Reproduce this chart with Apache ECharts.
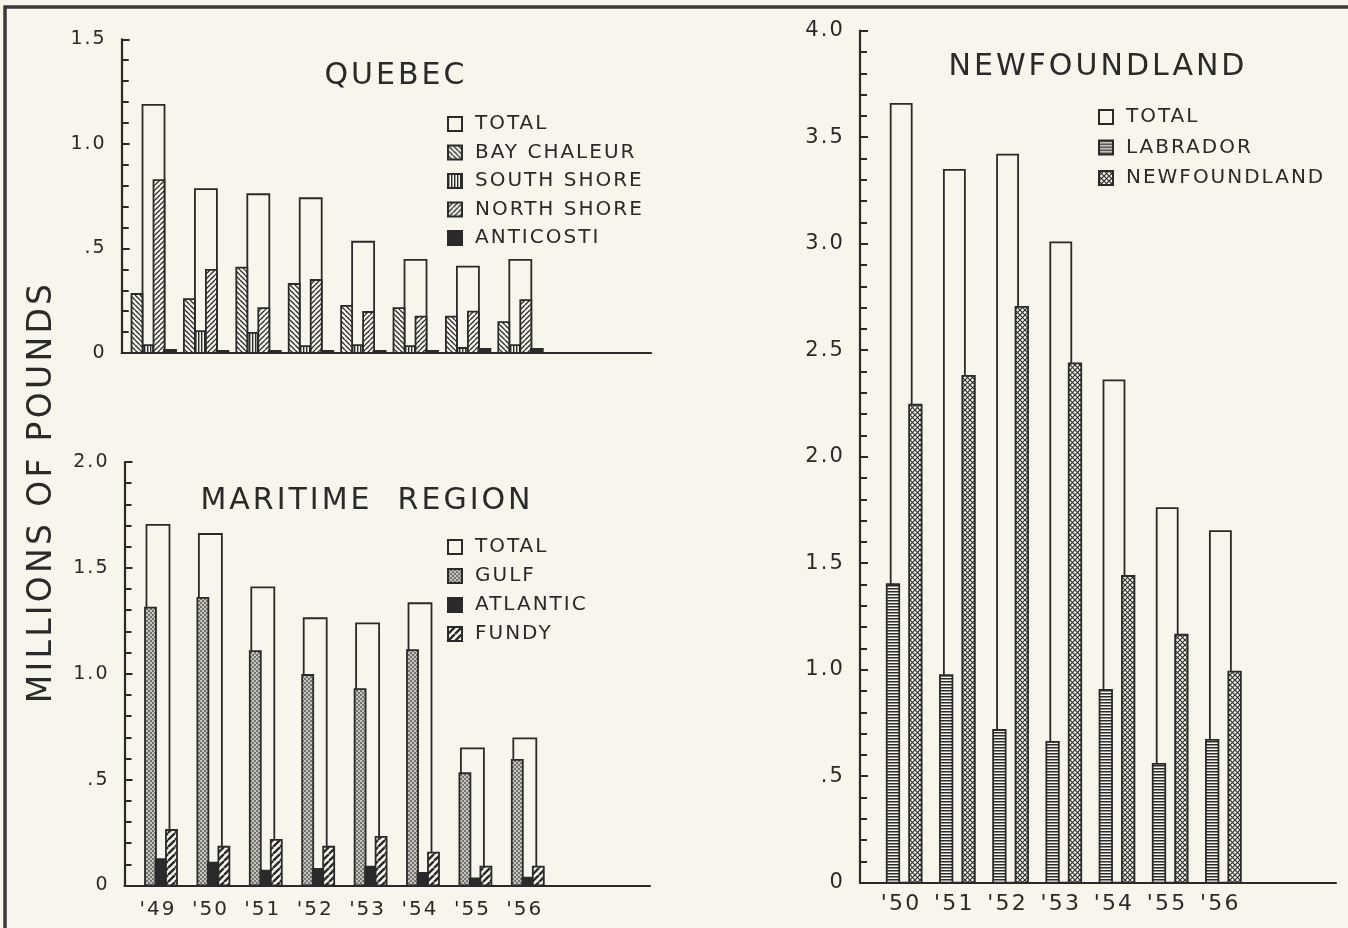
<!DOCTYPE html>
<html>
<head>
<meta charset="utf-8">
<script src="https://cdn.jsdelivr.net/npm/echarts@6/dist/echarts.min.js"></script>
<style>
html,body{margin:0;padding:0;background:#f7f5ec;}
#c{width:1348px;height:928px;}
</style>
</head>
<body>
<div id="c"></div>
<script>
// ---------- DATA ----------
const qmYears = ["'49", "'50", "'51", "'52", "'53", "'54", "'55", "'56"];
const quebecTotal = [1.186, 0.784, 0.759, 0.740, 0.532, 0.445, 0.413, 0.445];
const bayChaleur = [0.282, 0.258, 0.408, 0.330, 0.225, 0.215, 0.174, 0.148];
const southShore = [0.038, 0.105, 0.096, 0.033, 0.038, 0.033, 0.024, 0.038];
const northShore = [0.827, 0.397, 0.215, 0.349, 0.196, 0.174, 0.198, 0.253];
const anticosti = [0.015, 0.010, 0.010, 0.010, 0.010, 0.010, 0.020, 0.020];

const maritimeTotal = [1.703, 1.660, 1.408, 1.262, 1.238, 1.333, 0.648, 0.695];
const gulf = [1.312, 1.358, 1.107, 0.994, 0.927, 1.112, 0.530, 0.593];
const atlantic = [0.125, 0.108, 0.070, 0.078, 0.089, 0.060, 0.034, 0.037];
const fundy = [0.262, 0.183, 0.215, 0.183, 0.230, 0.155, 0.089, 0.089];

const nfYears = ["'50", "'51", "'52", "'53", "'54", "'55", "'56"];
const nfTotal = [3.656, 3.347, 3.418, 3.006, 2.358, 1.759, 1.651];
const labrador = [1.402, 0.974, 0.717, 0.661, 0.905, 0.558, 0.671];
const newfoundland = [2.244, 2.379, 2.703, 2.438, 1.440, 1.164, 0.991];

// ---------- STYLE ----------
const ink = '#2a2a2a';
const paper = '#f7f5ec';
const font = 'DejaVu Sans';

// lettering-template look: widen the spacing of every drawn text, scaled by font size
(function () {
  const proto = CanvasRenderingContext2D.prototype;
  const ft = proto.fillText;
  proto.fillText = function () {
    try {
      const m = /(\d+(?:\.\d+)?)px/.exec(this.font || '');
      const size = m ? parseFloat(m[1]) : 20;
      this.letterSpacing = Math.max(2, size * 0.1).toFixed(1) + 'px';
    } catch (e) {}
    return ft.apply(this, arguments);
  };
})();

function pattern(size, draw) {
  const c = document.createElement('canvas');
  c.width = size; c.height = size;
  const g = c.getContext('2d');
  g.fillStyle = paper; g.fillRect(0, 0, size, size);
  g.strokeStyle = ink; g.fillStyle = ink;
  draw(g, size);
  return { image: c, repeat: 'repeat' };
}
function diag(g, s, dir, w) {
  g.lineWidth = w;
  g.beginPath();
  if (dir > 0) {
    for (let k = -1; k <= 1; k++) { g.moveTo(k * s, s); g.lineTo(k * s + s, 0); }
  } else {
    for (let k = -1; k <= 1; k++) { g.moveTo(k * s, 0); g.lineTo(k * s + s, s); }
  }
  g.stroke();
}
const patBack = pattern(5, (g, s) => diag(g, s, -1, 1.3));
const patFwd = pattern(5, (g, s) => diag(g, s, 1, 1.3));
const patFundy = pattern(7, (g, s) => diag(g, s, 1, 2.4));
const patVert = pattern(3, (g, s) => { g.fillRect(0, 0, 1.4, s); });
const patHoriz = pattern(3, (g, s) => { g.fillRect(0, 0, s, 1.5); });
const patDots = (function () {
  const c = document.createElement('canvas'); c.width = 4; c.height = 4;
  const g = c.getContext('2d');
  g.fillStyle = '#74736f'; g.fillRect(0, 0, 4, 4);
  g.fillStyle = '#ecebe3';
  g.beginPath(); g.arc(1, 1, 0.9, 0, Math.PI * 2); g.fill();
  g.beginPath(); g.arc(3, 3, 0.9, 0, Math.PI * 2); g.fill();
  return { image: c, repeat: 'repeat' };
})();
const patCross = pattern(5, (g, s) => { diag(g, s, 1, 1.1); diag(g, s, -1, 1.1); });
const solid = ink;

function rectRender(offset, width, fill) {
  return function (params, api) {
    const i = api.value(0), v = api.value(1);
    const top = api.coord([i, v]);
    const base = api.coord([i, 0]);
    return {
      type: 'rect',
      shape: { x: top[0] + offset - width / 2, y: top[1], width: width, height: base[1] - top[1] },
      style: { fill: fill, stroke: ink, lineWidth: 1.8 }
    };
  };
}
function barSeries(name, values, gi, offset, width, fill) {
  return {
    type: 'custom', name: name, xAxisIndex: gi, yAxisIndex: gi,
    coordinateSystem: 'cartesian2d',
    data: values.map((v, i) => [i, v]),
    encode: { x: 0, y: 1 },
    itemStyle: { color: fill, borderColor: ink, borderWidth: 1.8 },
    renderItem: rectRender(offset, width, fill),
    silent: true
  };
}
function yFmt(v) {
  if (v === 0) return '0';
  if (v === 0.5) return '.5';
  return v.toFixed(1);
}
function yAxis(gi, max, fs) {
  return {
    type: 'value', gridIndex: gi, min: 0, max: max, interval: 0.5,
    axisLine: { show: true, onZero: false, lineStyle: { color: ink, width: 2.2 } },
    axisTick: { show: true, inside: true, length: 8, lineStyle: { color: ink, width: 2 } },
    minorTick: { show: true, splitNumber: 5, length: 7, lineStyle: { color: ink, width: 2 } },
    splitLine: { show: false },
    axisLabel: { formatter: yFmt, color: ink, fontFamily: font, fontSize: fs, margin: 15 }
  };
}
function xAxis(gi, min, max, labels, fs, margin) {
  const a = {
    type: 'value', gridIndex: gi, min: min, max: max,
    axisLine: { show: true, onZero: false, lineStyle: { color: ink, width: 2.2 } },
    axisTick: { show: false }, splitLine: { show: false }
  };
  if (labels) {
    a.axisLabel = {
      show: true, customValues: labels.map((_, i) => i),
      formatter: v => labels[Math.round(v)] || '',
      color: ink, fontFamily: font, fontSize: fs, margin: margin
    };
  } else {
    a.axisLabel = { show: false };
  }
  return a;
}
function legend(names, left, top, gap) {
  return {
    data: names, orient: 'vertical', left: left, top: top, padding: 0,
    itemWidth: 14, itemHeight: 14, itemGap: gap, selectedMode: false,
    icon: 'rect',
    textStyle: { color: ink, fontFamily: font, fontSize: 20, padding: [0, 0, 0, 8] }
  };
}

const chart = echarts.init(document.getElementById('c'), null, { renderer: 'canvas' });
const option = {
  backgroundColor: paper,
  animation: false,
  grid: [
    { left: 121.7, top: 39.3, width: 529.3, height: 313.7 },
    { left: 124.5, top: 462, width: 525.5, height: 423.5 },
    { left: 860, top: 30.7, width: 476, height: 852 }
  ],
  xAxis: [
    xAxis(0, -0.607, 9.494, null),
    xAxis(1, -0.639, 9.389, qmYears, 20, 14),
    xAxis(2, -0.774, 8.173, nfYears, 22, 11)
  ],
  yAxis: [yAxis(0, 1.5, 19), yAxis(1, 2.0, 19), yAxis(2, 4.0, 21)],
  title: [
    { text: 'QUEBEC', left: 391, top: 56, textAlign: 'center', textStyle: { color: ink, fontFamily: font, fontSize: 30, fontWeight: 'normal' } },
    { text: 'MARITIME  REGION', left: 362, top: 481, textAlign: 'center', textStyle: { color: ink, fontFamily: font, fontSize: 30, fontWeight: 'normal' } },
    { text: 'NEWFOUNDLAND', left: 1093, top: 47, textAlign: 'center', textStyle: { color: ink, fontFamily: font, fontSize: 30, fontWeight: 'normal' } }
  ],
  legend: [
    legend(['TOTAL', 'BAY CHALEUR', 'SOUTH SHORE', 'NORTH SHORE', 'ANTICOSTI'], 447, 114, 8.5),
    legend(['TOTAL', 'GULF', 'ATLANTIC', 'FUNDY'], 447, 537, 9),
    legend(['TOTAL', 'LABRADOR', 'NEWFOUNDLAND'], 1098, 107, 10.5)
  ],
  graphic: [
    { type: 'polyline', shape: { points: [[5, 928], [5, 7], [1348, 7]] }, style: { stroke: '#3a3a3a', lineWidth: 3.5, fill: null } },
    { type: 'text', x: 42, y: 492, rotation: Math.PI / 2,
      style: { text: 'MILLIONS OF POUNDS', fill: ink, font: '33px "DejaVu Sans"', textAlign: 'center', textVerticalAlign: 'middle' } }
  ],
  series: [
    barSeries('TOTAL', quebecTotal, 0, 0, 22, paper),
    barSeries('BAY CHALEUR', bayChaleur, 0, -16.5, 11, patBack),
    barSeries('SOUTH SHORE', southShore, 0, -5.5, 10, patVert),
    barSeries('NORTH SHORE', northShore, 0, 5.5, 11, patFwd),
    barSeries('ANTICOSTI', anticosti, 0, 16.5, 12, solid),

    barSeries('TOTAL', maritimeTotal, 1, 0, 23, paper),
    barSeries('GULF', gulf, 1, -7.5, 11, patDots),
    barSeries('ATLANTIC', atlantic, 1, 3, 11, solid),
    barSeries('FUNDY', fundy, 1, 13.5, 11, patFundy),

    barSeries('TOTAL', nfTotal, 2, 0, 21, paper),
    barSeries('LABRADOR', labrador, 2, -8.2, 12.5, patHoriz),
    barSeries('NEWFOUNDLAND', newfoundland, 2, 14.2, 12.5, patCross)
  ]
};
chart.setOption(option);
</script>
</body>
</html>
